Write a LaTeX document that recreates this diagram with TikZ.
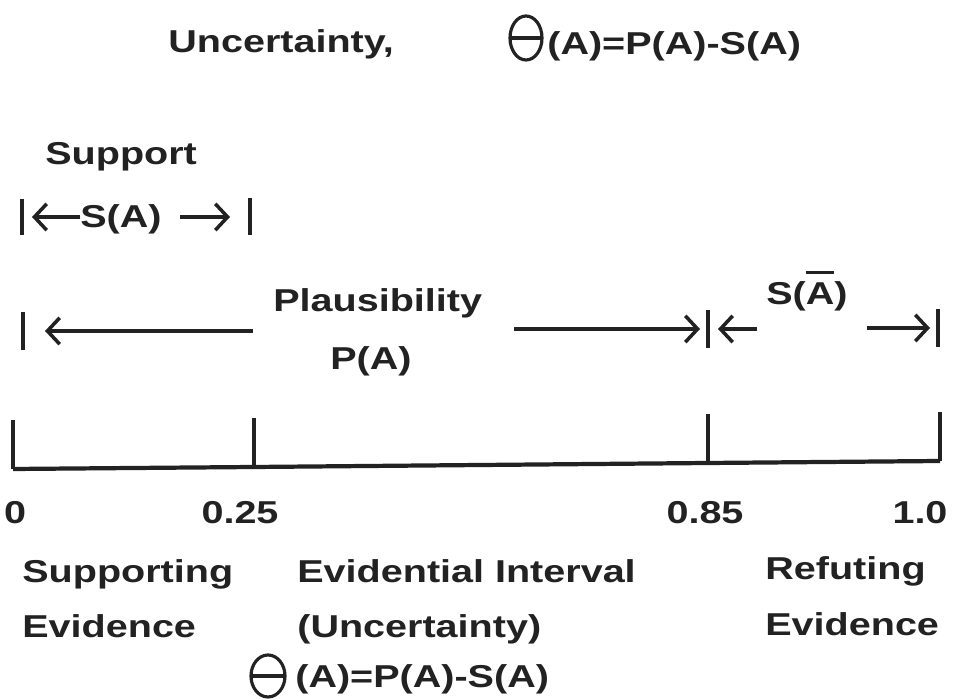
\documentclass[tikz,border=0pt]{standalone}
\usepackage{fontspec}
\usepackage{tikz}
\usetikzlibrary{arrows.meta}
\newfontfamily\dsfont{Liberation Sans}[FakeStretch=1.25]
\definecolor{DSInk}{HTML}{222222}
\newcommand{\negA}{\vbox{\hrule height 1.8pt\kern 5pt\hbox{A}}}

\tikzset{
  dstext/.style={font=\dsfont\bfseries\fontsize{18}{21}\selectfont,text=DSInk,inner sep=0pt,anchor=base west},
  dsarrow/.style={DSInk,line width=2pt,-{Straight Barb[length=7pt,width=15pt,line width=2pt]}},
  dsbar/.style={DSInk,line width=2.4pt},
  dstick/.style={DSInk,line width=1.8pt},
  dsglyph/.style={DSInk,line width=1.8pt},
}

\begin{document}
\begin{tikzpicture}[x=1cm,y=1cm]
\path[use as bounding box] (0,0) rectangle (19.10,14.00);
\fill[white] (0,0) rectangle (19.10,14.00);

% heading
\node[dstext] (head) at (3.36,12.94) {Uncertainty,};
\coordinate (thetaT) at (10.52,13.24);
\draw[dsglyph] (thetaT) ellipse (0.32 and 0.44);
\draw[dsglyph] ([xshift=-0.32cm]thetaT) -- ([xshift=0.32cm]thetaT);
\node[dstext] (headform) at (10.94,12.90) {(A)=P(A)-S(A)};

% support
\node[dstext] (support) at (0.90,10.70) {Support};
\coordinate (supL) at (0.44,9.66);
\coordinate (supR) at (5.00,9.66);
\draw[dsbar] ([yshift=0.36cm]supL) -- ([yshift=-0.36cm]supL);
\draw[dsbar] ([yshift=0.38cm]supR) -- ([yshift=-0.36cm]supR);
\node[dstext] (sa) at (1.60,9.44) {S(A)};
\draw[dsarrow] (supL -| sa.west) -- ([xshift=0.20cm]supL);
\draw[dsarrow] ([xshift=-1.40cm]supR) -- ([xshift=-0.40cm]supR);

% plausibility
\coordinate (plL) at (0.46,7.38);
\coordinate (plM) at (14.16,7.42);
\coordinate (plR) at (18.76,7.44);
\foreach \b in {plL,plM,plR}
  \draw[dsbar] ([yshift=0.38cm]\b) -- ([yshift=-0.38cm]\b);
\node[dstext] (plaus) at (5.46,7.76) {Plausibility};
\node[dstext,anchor=base] (pa) at (7.42,6.60) {P(A)};
\draw[dsarrow] ([xshift=-0.40cm]plaus.west |- plL) -- ([xshift=0.44cm]plL);
\draw[dsarrow] ([xshift=0.64cm]plaus.east |- plM) -- ([xshift=-0.16cm]plM);
\draw[dsarrow] ([xshift=0.98cm]plM) -- ([xshift=0.20cm]plM);
\node[dstext] (sna) at (15.32,7.90) {S(\negA)};
\draw[dsarrow] ([xshift=-1.42cm]plR) -- ([xshift=-0.16cm]plR);

% axis
\coordinate (a0) at (0.26,4.62);
\coordinate (a25) at (5.08,4.66);
\coordinate (a85) at (14.16,4.74);
\coordinate (a100) at (18.80,4.78);
\draw[dsbar,line join=round] (a0) -- (a25) -- (a85) -- (a100);
\foreach \t in {a0,a25,a85,a100}
  \draw[dstick] (\t) -- ++(0,0.97);
\node[dstext,anchor=base] (l0) at (0.30,3.52) {0};
\node[dstext,anchor=base] (l25) at (4.80,3.52) {0.25};
\node[dstext,anchor=base] (l85) at (14.10,3.52) {0.85};
\node[dstext,anchor=base] (l100) at (18.40,3.52) {1.0};

% evidence
\node[dstext] (supev) at (0.44,2.34) {Supporting};
\node[dstext] (supev2) at (0.44,1.24) {Evidence};
\node[dstext] (evint) at (5.94,2.34) {Evidential Interval};
\node[dstext] (evint2) at (5.94,1.24) {(Uncertainty)};
\node[dstext] (refev) at (15.30,2.40) {Refuting};
\node[dstext] (refev2) at (15.30,1.28) {Evidence};
\coordinate (thetaB) at (5.36,0.48);
\draw[dsglyph] (thetaB) ellipse (0.34 and 0.42);
\draw[dsglyph] ([xshift=-0.34cm]thetaB) -- ([xshift=0.34cm]thetaB);
\node[dstext] (footform) at (5.90,0.24) {(A)=P(A)-S(A)};
\end{tikzpicture}
\end{document}
